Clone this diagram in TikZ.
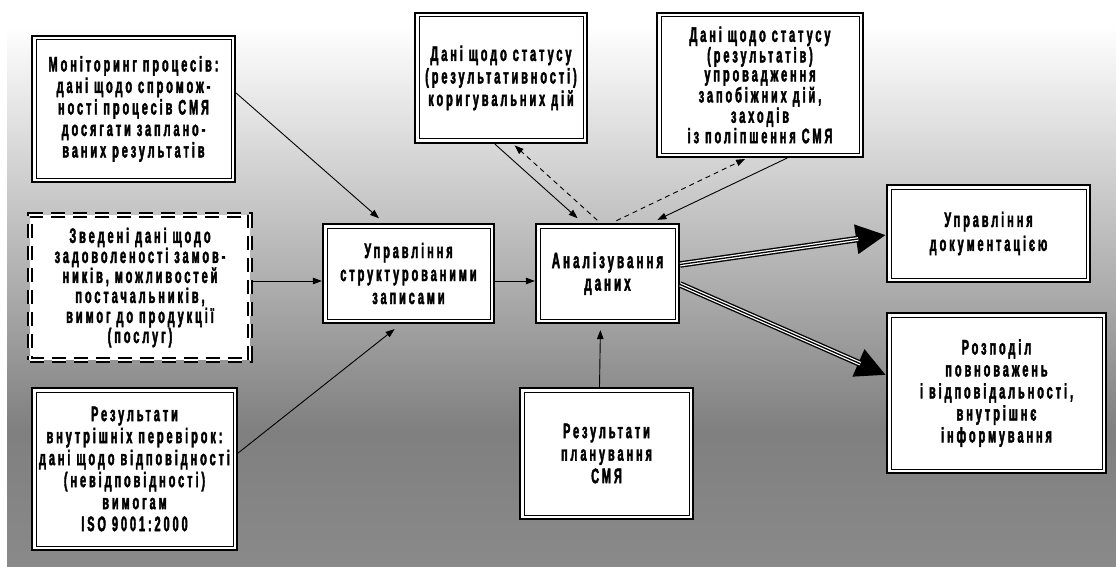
\documentclass[tikz,border=0pt]{standalone}
\usepackage{fontspec}
\usetikzlibrary{arrows.meta,calc}
\newfontfamily\cf{Liberation Sans Bold}[FakeStretch=0.52,LetterSpace=14,FakeBold=2]
\definecolor{gA}{gray}{0.5}
\definecolor{gB}{gray}{0.54}
\begin{document}
\begin{tikzpicture}[x=1pt,y=-1pt,
  box/.style={draw=black, line width=2.2pt, fill=white, inner sep=0pt, align=center, text=black,
    font=\cf\fontsize{21}{21.5}\selectfont,
    path picture={\draw[line width=1pt] ([shift={(4pt,-4pt)}]path picture bounding box.north west) rectangle ([shift={(-4pt,4pt)}]path picture bounding box.south east);}},
  dbox/.style={draw=black, double=white, double distance=2.2pt, line width=1.6pt, dash pattern=on 14pt off 8pt,
    fill=white, inner sep=0pt, align=center, text=black, font=\cf\fontsize{21}{20}\selectfont},
  arr/.style={line width=0.9pt, -{Triangle[length=9pt,width=6.5pt]}},
  darr/.style={line width=0.9pt, dash pattern=on 5pt off 4pt, -{Triangle[length=9pt,width=6.5pt]}},
  fat/.style={line width=6.5pt, -{Triangle[length=30pt,width=28pt]}},
  fatw/.style={line width=3.8pt, white, shorten >=28pt},
  fatc/.style={line width=1.3pt, black, shorten >=28pt}
]
\useasboundingbox (0,0) rectangle (1116,567);
\fill[white] (0,0) rectangle (1116,567);
\shade[top color=white, bottom color=gA] (7,25) rectangle (1116,430);
\shade[top color=gA, bottom color=gB] (7,430) rectangle (1116,567);

\node[box, minimum width=203pt, minimum height=146pt] (mon) at (133.5,109)
  {Моніторинг процесів:\\дані щодо спромож-\\ності процесів СМЯ\\досягати заплано-\\ваних результатів};
\node[dbox, minimum width=220pt, minimum height=145pt] (zv) at (140,287.5)
  {Зведені дані щодо\\задоволеності замов-\\ників, можливостей\\постачальників,\\вимог до продукції\\(послуг)};
\node[box, minimum width=205pt, minimum height=162pt, font=\cf\fontsize{21}{22}\selectfont] (ri) at (134.5,469)
  {Результати\\внутрішніх перевірок:\\дані щодо відповідності\\(невідповідності)\\вимогам\\ISO 9001:2000};
\node[box, minimum width=171pt, minimum height=99pt, font=\cf\fontsize{21}{23}\selectfont] (upr) at (408.5,273.5)
  {Управління\\структурованими\\записами};
\node[box, minimum width=143pt, minimum height=99pt, font=\cf\fontsize{22}{22.5}\selectfont] (anal) at (607.5,273.5)
  {Аналізування\\даних};
\node[box, minimum width=172pt, minimum height=130pt, font=\cf\fontsize{21}{22.5}\selectfont] (st1) at (501,78)
  {Дані щодо статусу\\(результативності)\\коригувальних дій};
\node[box, minimum width=206pt, minimum height=144pt, font=\cf\fontsize{21}{19}\selectfont] (st2) at (760,85)
  {Дані щодо статусу\\(результатів)\\упровадження\\запобіжних дій,\\заходів\\із поліпшення СМЯ};
\node[box, minimum width=203pt, minimum height=97pt, font=\cf\fontsize{21}{24}\selectfont] (doc) at (988.5,233.5)
  {Управління\\документацією};
\node[box, minimum width=219pt, minimum height=160pt, font=\cf\fontsize{21}{22}\selectfont] (roz) at (996.5,393)
  {Розподіл\\повноважень\\і відповідальності,\\внутрішнє\\інформування};
\node[box, minimum width=173pt, minimum height=131pt, font=\cf\fontsize{21}{22.5}\selectfont] (pl) at (606.5,453.5)
  {Результати\\планування\\СМЯ};

\coordinate (h) at (0,281);

\draw[arr, shorten >=7pt] ($(mon.east)+(0,-16)$) -- ($(upr.north west)!0.36!(upr.north east)$);
\draw[arr] (zv.east |- h) -- (upr.west |- h);
\draw[arr, shorten >=8pt] ($(ri.east)+(0,-16)$) -- ($(upr.south west)!0.456!(upr.south east)$);
\draw[arr] (upr.east |- h) -- (anal.west |- h);
\draw[arr, shorten >=7pt] ($(st1.south west)!0.465!(st1.south east)$) -- ($(anal.north west)!0.33!(anal.north east)$);
\draw[darr, shorten <=4pt, shorten >=2pt] ($(anal.north west)!0.45!(anal.north east)$) -- ($(st1.south west)!0.57!(st1.south east)$);
\draw[arr, shorten >=7pt] ($(st2.south west)!0.63!(st2.south east)$) -- ($(anal.north west)!0.8!(anal.north east)$);
\draw[darr, shorten <=5pt, shorten >=2pt] ($(anal.north west)!0.53!(anal.north east)$) -- ($(st2.south west)!0.437!(st2.south east)$);
\draw[arr, shorten >=6pt] ($(pl.north)+(-7,0)$) -- ($(anal.south)+(-7,0)$);

\draw[fat] ($(anal.east)+(0,-9)$) -- ($(doc.west)+(0,1.5)$);
\draw[fatw] ($(anal.east)+(0,-9)$) -- ($(doc.west)+(0,1.5)$);
\draw[fatc] ($(anal.east)+(0,-9)$) -- ($(doc.west)+(0,1.5)$);
\draw[fat] ($(anal.east)+(0,11)$) -- ($(roz.west)+(0,-18)$);
\draw[fatw] ($(anal.east)+(0,11)$) -- ($(roz.west)+(0,-18)$);
\draw[fatc] ($(anal.east)+(0,11)$) -- ($(roz.west)+(0,-18)$);
\end{tikzpicture}
\end{document}
